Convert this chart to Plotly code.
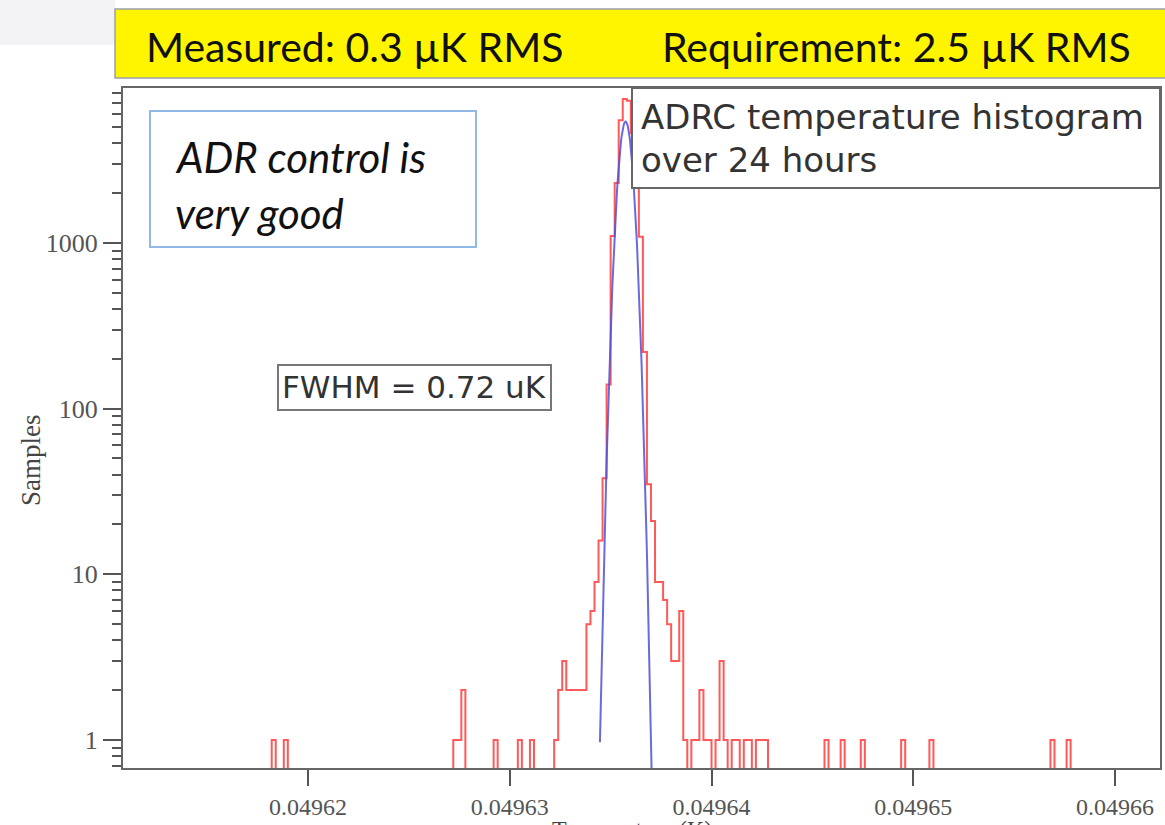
import plotly.graph_objects as go
import numpy as np

# ---------------- data ----------------
bin_center_K = [
    0.04961830, 0.04961890, 0.04962730, 0.04962750, 0.04962770, 0.04962930,
    0.04963050, 0.04963110, 0.04963230, 0.04963250, 0.04963270, 0.04963290,
    0.04963310, 0.04963330, 0.04963350, 0.04963370, 0.04963390, 0.04963410,
    0.04963430, 0.04963450, 0.04963470, 0.04963490, 0.04963510, 0.04963530,
    0.04963550, 0.04963570, 0.04963590, 0.04963610, 0.04963630, 0.04963650,
    0.04963670, 0.04963690, 0.04963710, 0.04963730, 0.04963750, 0.04963770,
    0.04963790, 0.04963810, 0.04963830, 0.04963850, 0.04963870, 0.04963910,
    0.04963930, 0.04963950, 0.04963970, 0.04963990, 0.04964030, 0.04964050,
    0.04964070, 0.04964110, 0.04964130, 0.04964170, 0.04964190, 0.04964230,
    0.04964250, 0.04964270, 0.04964570, 0.04964650, 0.04964750, 0.04964950,
    0.04965090, 0.04965690, 0.04965770,
]
counts = [
    1, 1, 1, 1, 2, 1,
    1, 1, 1, 2, 3, 2,
    2, 2, 2, 2, 5, 6,
    9, 16, 38, 140, 1100, 2300,
    5500, 7400, 7200, 4600, 2200, 1090,
    220, 35, 21, 9, 9, 7,
    5, 3, 3, 6, 1, 1,
    1, 2, 1, 1, 1, 3,
    1, 1, 1, 1, 1, 1,
    1, 1, 1, 1, 1, 1,
    1, 1, 1,
]
BIN_WIDTH_K = 0.0000002

# Gaussian fit parameters
fit_center_K = 0.04963574
fit_fwhm_K = 0.72e-6
fit_amplitude = 5400
fit_range_K = [0.04963447, 0.04963712]

x_tick_vals = [0.04962, 0.04963, 0.04964, 0.04965, 0.04966]
x_tick_text = ["0.04962", "0.04963", "0.04964", "0.04965", "0.04966"]
y_tick_vals = [1, 10, 100, 1000]
y_tick_text = ["1", "10", "100", "1000"]

# ---------------- build histogram outline ----------------
c = np.array(bin_center_K)
n = np.array(counts, dtype=float)
kmin = c.min()
idx = np.rint((c - kmin) / BIN_WIDTH_K).astype(int)
nb = idx.max() + 1
grid = np.zeros(nb)
grid[idx] = n
FLOOR = 0.1
hx, hy = [kmin - BIN_WIDTH_K / 2], [FLOOR]
for i in range(nb):
    left = kmin + (i - 0.5) * BIN_WIDTH_K
    right = kmin + (i + 0.5) * BIN_WIDTH_K
    v = grid[i] if grid[i] > 0 else FLOOR
    hx += [left, right]
    hy += [v, v]
hx.append(kmin + (nb - 0.5) * BIN_WIDTH_K)
hy.append(FLOOR)

sigma = fit_fwhm_K / (2 * np.sqrt(2 * np.log(2)))
gx = np.linspace(fit_range_K[0], fit_range_K[1], 120)
gy = fit_amplitude * np.exp(-0.5 * ((gx - fit_center_K) / sigma) ** 2)

fig = go.Figure()
fig.add_trace(go.Scatter(x=hx, y=hy, mode="lines",
                         line=dict(color="rgba(255,60,60,0.85)", width=2),
                         hoverinfo="skip", showlegend=False))
fig.add_trace(go.Scatter(x=gx, y=gy, mode="lines",
                         line=dict(color="rgba(80,80,215,0.85)", width=2),
                         hoverinfo="skip", showlegend=False))

# ---------------- layout geometry (pixels) ----------------
W, H = 1165, 825
L, R, T, B = 123, 1160, 88, 768


def px(p):
    return (p - L) / (R - L)


def py(p):
    return (B - p) / (B - T)


serif = "Liberation Serif, Times New Roman, serif"
sans = "DejaVu Sans, Verdana, sans-serif"
cal = "Lato, Open Sans, sans-serif"

shapes = [
    # light grey strip top-left
    dict(type="rect", xref="paper", yref="paper", x0=px(0), x1=px(115),
         y0=py(45), y1=py(0), fillcolor="#f3f3f5", line=dict(width=0), layer="below"),
    # banner
    dict(type="rect", xref="paper", yref="paper", x0=px(115), x1=px(1170),
         y0=py(78), y1=py(9), fillcolor="#FFF500",
         line=dict(color="#9aa0aa", width=1.5), layer="above"),
    # ADR control box
    dict(type="rect", xref="paper", yref="paper", x0=px(150), x1=px(476),
         y0=py(247), y1=py(111), fillcolor="rgba(0,0,0,0)",
         line=dict(color="#92b8e6", width=2)),
    # histogram title box
    dict(type="rect", xref="paper", yref="paper", x0=px(632), x1=px(1160),
         y0=py(188), y1=py(88), fillcolor="white",
         line=dict(color="#666666", width=2), layer="above"),
    # FWHM box
    dict(type="rect", xref="paper", yref="paper", x0=px(278), x1=px(551),
         y0=py(410), y1=py(365), fillcolor="white",
         line=dict(color="#777777", width=2), layer="above"),
]


def ann(text, x, y, size, family, color="#111111", xanchor="center", yanchor="middle", **kw):
    return dict(text=text, x=px(x), y=py(y), xref="paper", yref="paper",
                xanchor=xanchor, yanchor=yanchor, showarrow=False,
                font=dict(family=family, size=size, color=color), **kw)


annotations = [
    ann("Measured: 0.3 µK RMS", 355, 47, 41, cal),
    ann("Requirement: 2.5 µK RMS", 896, 47, 41, cal),
    ann("<i>ADR control is</i>", 173, 157, 42, cal, xanchor="left"),
    ann("<i>very good</i>", 173, 213, 42, cal, xanchor="left"),
    ann("ADRC temperature histogram", 639, 117, 34, sans, color="#333333", xanchor="left"),
    ann("over 24 hours", 639, 160, 34, sans, color="#333333", xanchor="left"),
    ann("FWHM = 0.72 uK", 414, 387, 31, sans, color="#333333"),
    ann("Samples", 31, 460, 27, serif, color="#444444", textangle=-90),
    ann("Temperature (K)", 632, 814, 24, serif, color="#444444", yanchor="top"),
]

fig.update_layout(
    width=W, height=H,
    margin=dict(l=L, r=W - R, t=T, b=H - B, pad=0, autoexpand=False),
    paper_bgcolor="white", plot_bgcolor="white",
    shapes=shapes, annotations=annotations,
    showlegend=False,
    xaxis=dict(
        range=[0.04961083, 0.04966223], automargin=False,
        tickmode="array", tickvals=x_tick_vals, ticktext=x_tick_text,
        ticks="outside", ticklen=16, tickwidth=2, tickcolor="#555555",
        showline=True, linecolor="#666666", linewidth=2, mirror=True,
        showgrid=False, zeroline=False,
        tickfont=dict(family=serif, size=24, color="#555555"),
    ),
    yaxis=dict(
        type="log", range=[-0.169, 3.935], automargin=False,
        tickmode="array", tickvals=y_tick_vals, ticktext=y_tick_text,
        ticks="outside", ticklen=18, tickwidth=2, tickcolor="#555555",
        minor=dict(ticks="outside", ticklen=9, tickwidth=1.5, tickcolor="#555555",
                   dtick="D1", showgrid=False),
        showline=True, linecolor="#666666", linewidth=2, mirror=True,
        showgrid=False, zeroline=False,
        tickfont=dict(family=serif, size=26, color="#555555"),
    ),
)

fig.write_html("out.html")
